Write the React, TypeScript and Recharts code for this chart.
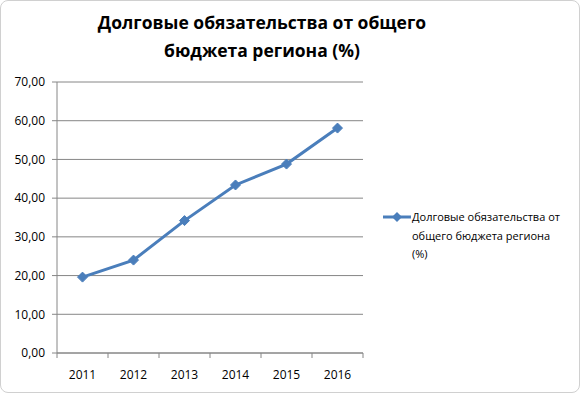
import { LineChart, Line, XAxis, YAxis, CartesianGrid } from 'recharts'

const years = ['2011', '2012', '2013', '2014', '2015', '2016']
const debtShare = [19.6, 24.0, 34.2, 43.4, 48.8, 58.1]
const yTicks = [0, 10, 20, 30, 40, 50, 60, 70]

const title = ['Долговые обязательства от общего', 'бюджета региона (%)']
const seriesName = 'Долговые обязательства от общего бюджета региона (%)'

const data = years.map((year, i) => ({ year, value: debtShare[i] }))

const BLUE = '#4a7ebb'
const GRID = '#868686'
const FONT = '"Open Sans", sans-serif'
const HALF_BAND = 25.5

const Diamond = (props: any) => {
  const { cx, cy } = props
  if (cx == null || cy == null) return null
  const r = 5
  return (
    <path
      d={`M${cx},${cy - r}L${cx + r},${cy}L${cx},${cy + r}L${cx - r},${cy}Z`}
      fill={BLUE}
      stroke={BLUE}
    />
  )
}

const YearTick = (props: any) => {
  const { x, y, payload, index } = props
  const last = index === years.length - 1
  return (
    <g>
      <line x1={x - HALF_BAND} y1={y} x2={x - HALF_BAND} y2={y + 5} stroke={GRID} />
      {last && <line x1={x + HALF_BAND} y1={y} x2={x + HALF_BAND} y2={y + 5} stroke={GRID} />}
      <text x={x} y={y + 26} textAnchor="middle" fontSize={12} fontFamily={FONT} fill="#000">
        {payload.value}
      </text>
    </g>
  )
}

export default function App() {
  return (
    <div
      style={{
        position: 'absolute',
        left: 0,
        top: 0,
        width: 580,
        height: 393,
        background: '#fff',
        border: '1px solid #d0d0d0',
        borderRadius: 8,
        boxSizing: 'border-box',
        fontFamily: FONT,
      }}
    >
      <div
        style={{
          position: 'absolute',
          left: 0,
          top: 7,
          width: 522,
          textAlign: 'center',
          fontWeight: 700,
          fontSize: 17.5,
          lineHeight: '28px',
          color: '#000',
        }}
      >
        {title[0]}
        <br />
        {title[1]}
      </div>

      <div style={{ position: 'absolute', left: -1, top: -1 }}>
        <LineChart width={580} height={393} data={data} margin={{ top: 82, right: 217, bottom: 10, left: 0 }}>
          <CartesianGrid vertical={false} stroke={GRID} />
          <XAxis
            dataKey="year"
            padding={{ left: HALF_BAND, right: HALF_BAND }}
            height={30}
            stroke={GRID}
            tickLine={false}
            tickSize={0}
            tickMargin={0}
            tick={<YearTick />}
            interval={0}
          />
          <YAxis
            width={57}
            domain={[0, 70]}
            ticks={yTicks}
            interval={0}
            stroke={GRID}
            tickSize={5}
            tickMargin={7}
            tickFormatter={(v: number) => v.toFixed(2).replace('.', ',')}
            tick={{ fill: '#000', fontSize: 12, fontFamily: FONT }}
          />
          <Line
            type="linear"
            dataKey="value"
            name={seriesName}
            stroke={BLUE}
            strokeWidth={3}
            dot={<Diamond />}
            activeDot={false}
            isAnimationActive={false}
          />
        </LineChart>
      </div>

      <div style={{ position: 'absolute', left: 380, top: 207, display: 'flex' }}>
        <svg width={31} height={18} style={{ flex: 'none' }}>
          <line x1={2} y1={9} x2={30} y2={9} stroke={BLUE} strokeWidth={3} />
          <path d="M16,4L21,9L16,14L11,9Z" fill={BLUE} />
        </svg>
        <div style={{ width: 150, fontSize: 11, lineHeight: '18.5px', color: '#000' }}>{seriesName}</div>
      </div>
    </div>
  )
}
